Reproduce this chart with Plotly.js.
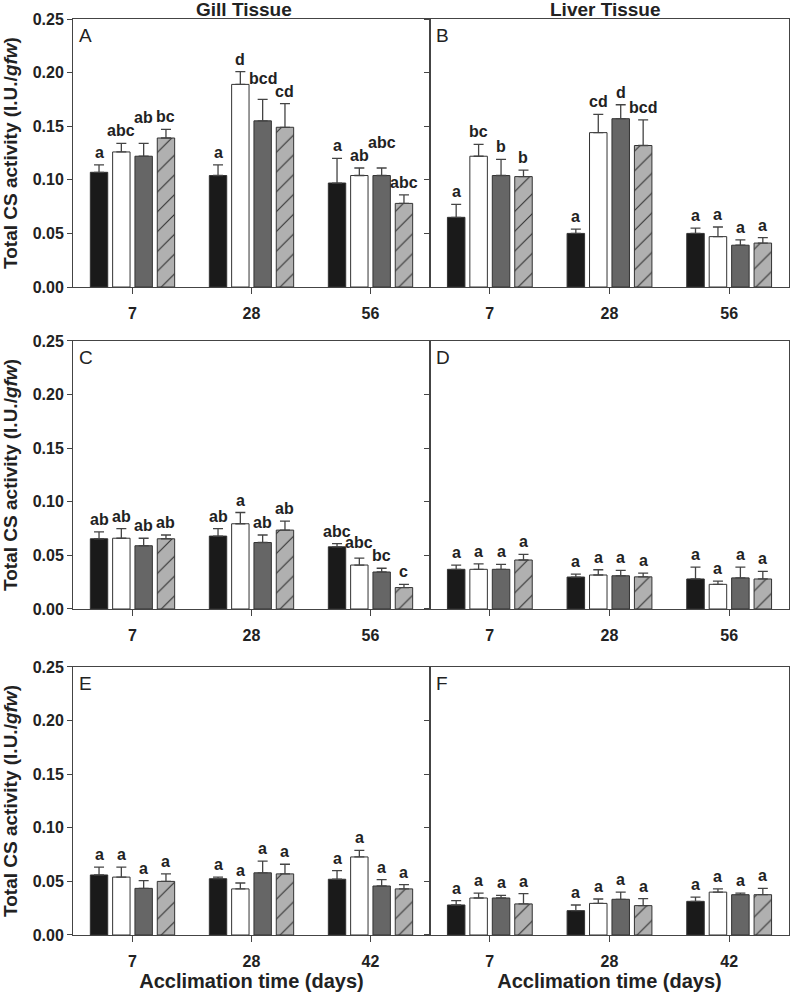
<!DOCTYPE html>
<html>
<head>
<meta charset="utf-8">
<script src="https://cdn.plot.ly/plotly-3.0.1.min.js"></script>
<style>
  html, body { margin: 0; padding: 0; background: #fff; }
  #plot { width: 790px; height: 994px; }
</style>
</head>
<body>
<div id="plot"></div>
<script>
// Acclimation days on the x axis (rows 1-2 and row 3)
var daysAB = ["7", "28", "56"];
var daysEF = ["7", "28", "42"];
var seriesNames = ["Group 1", "Group 2", "Group 3", "Group 4"];

// Each panel: one row per series (black, white, dark gray, hatched), one value per day
var meanA = [[0.107, 0.104, 0.097], [0.126, 0.189, 0.104], [0.122, 0.155, 0.104], [0.139, 0.149, 0.078]];
var seA   = [[0.007, 0.010, 0.023], [0.008, 0.012, 0.007], [0.012, 0.020, 0.007], [0.008, 0.022, 0.008]];
var letA  = [["a", "a", "a"], ["abc", "d", "ab"], ["ab", "bcd", "abc"], ["bc", "cd", "abc"]];

var meanB = [[0.065, 0.050, 0.050], [0.122, 0.144, 0.047], [0.104, 0.157, 0.039], [0.103, 0.132, 0.041]];
var seB   = [[0.012, 0.004, 0.005], [0.011, 0.017, 0.009], [0.015, 0.013, 0.005], [0.006, 0.024, 0.005]];
var letB  = [["a", "a", "a"], ["bc", "cd", "a"], ["b", "d", "a"], ["b", "bcd", "a"]];

var meanC = [[0.0655, 0.068, 0.058], [0.066, 0.0795, 0.041], [0.059, 0.062, 0.0345], [0.0655, 0.0736, 0.020]];
var seC   = [[0.0065, 0.007, 0.003], [0.009, 0.0105, 0.0065], [0.007, 0.007, 0.0035], [0.0035, 0.0084, 0.003]];
var letC  = [["ab", "ab", "abc"], ["ab", "a", "abc"], ["ab", "ab", "bc"], ["ab", "ab", "c"]];

var meanD = [[0.037, 0.0298, 0.028], [0.037, 0.0317, 0.023], [0.037, 0.031, 0.029], [0.0457, 0.030, 0.028]];
var seD   = [[0.004, 0.0028, 0.011], [0.005, 0.0049, 0.003], [0.0046, 0.005, 0.010], [0.0053, 0.0035, 0.007]];
var letD  = [["a", "a", "a"], ["a", "a", "a"], ["a", "a", "a"], ["a", "a", "a"]];

var meanE = [[0.056, 0.0525, 0.052], [0.054, 0.043, 0.0728], [0.0435, 0.058, 0.0457], [0.050, 0.057, 0.043]];
var seE   = [[0.0074, 0.0015, 0.008], [0.0094, 0.0055, 0.0062], [0.0072, 0.011, 0.0059], [0.007, 0.009, 0.004]];
var letE  = [["a", "a", "a"], ["a", "a", "a"], ["a", "a", "a"], ["a", "a", "a"]];

var meanF = [[0.028, 0.0227, 0.0314], [0.0345, 0.0295, 0.040], [0.0345, 0.0333, 0.0376], [0.029, 0.0274, 0.0376]];
var seF   = [[0.004, 0.0053, 0.004], [0.0045, 0.0041, 0.003], [0.0025, 0.0067, 0.0014], [0.0096, 0.0066, 0.0059]];
var letF  = [["a", "a", "a"], ["a", "a", "a"], ["a", "a", "a"], ["a", "a", "a"]];

var panels = [
  { tag: "A", days: daysAB, mean: meanA, se: seA, letters: letA },
  { tag: "B", days: daysAB, mean: meanB, se: seB, letters: letB },
  { tag: "C", days: daysAB, mean: meanC, se: seC, letters: letC },
  { tag: "D", days: daysAB, mean: meanD, se: seD, letters: letD },
  { tag: "E", days: daysEF, mean: meanE, se: seE, letters: letE },
  { tag: "F", days: daysEF, mean: meanF, se: seF, letters: letF }
];

var font = "Liberation Sans, Arial, sans-serif";
var ink = "#222";
var frame = "#444";
var fills = ["#1a1a1a", "#ffffff", "#666666", "#b0b0b0"];
var bargap = 0.25;
var bargroupgap = 0.22;
var W = 790, H = 994;
var margin = { l: 73, r: 1, t: 19, b: 59 };
var yMax = 0.25;
var letterSize = 16;

// panel placement in paper units, left and right panels share a border
var colDomains = [[0, 0.4986], [0.4986, 1]];
var rowDomains = [[0.7074, 1], [0.3559, 0.6485], [0, 0.2926]];

var data = [];
var annotations = [];
var layout = {
  width: W,
  height: H,
  margin: margin,
  paper_bgcolor: "#fff",
  plot_bgcolor: "#fff",
  showlegend: false,
  barmode: "group",
  bargap: bargap,
  bargroupgap: bargroupgap,
  font: { family: font, color: ink }
};

panels.forEach(function (p, i) {
  var n = i + 1;
  var sfx = n === 1 ? "" : String(n);
  var row = Math.floor(i / 2);
  var col = i % 2;
  var nSeries = p.mean.length;
  var slot = (1 - bargap) / nSeries;

  // pixel scales of this panel, used only to keep letters from colliding
  var pxPerCat = (colDomains[col][1] - colDomains[col][0]) * (W - margin.l - margin.r) / p.days.length;
  var pxPerUnit = (rowDomains[row][1] - rowDomains[row][0]) * (H - margin.t - margin.b) / yMax;
  var slotPx = slot * pxPerCat;
  var textH = 13 / pxPerUnit;

  p.mean.forEach(function (vals, k) {
    data.push({
      type: "bar",
      name: seriesNames[k],
      x: p.days,
      y: vals,
      xaxis: "x" + sfx,
      yaxis: "y" + sfx,
      marker: {
        color: fills[k],
        line: { color: "#333", width: 1 },
        pattern: k === 3 ? { shape: "/", fgcolor: "#333", bgcolor: fills[k], size: 14, solidity: 0.08 } : undefined
      },
      error_y: {
        type: "data",
        symmetric: false,
        array: p.se[k],
        arrayminus: p.se[k].map(function () { return 0; }),
        color: "#444",
        thickness: 1.3,
        width: 5
      },
      hoverinfo: "x+y"
    });
  });

  // significance letters above each error bar; a label that would collide
  // with its left neighbour gets stacked above it
  p.days.forEach(function (day, d) {
    var pos = [];
    for (var k = 0; k < nSeries; k++) {
      var txt = p.letters[k][d];
      pos.push({ k: k, txt: txt, y: p.mean[k][d] + p.se[k][d], w: txt.length * 0.58 * letterSize });
    }
    for (var k2 = 1; k2 < nSeries; k2++) {
      var a = pos[k2 - 1], b = pos[k2];
      var hOverlap = (a.w + b.w) / 2 + 2 > slotPx;
      if (hOverlap && Math.abs(a.y - b.y) < textH) {
        if (b.y >= a.y - textH * 0.2) b.y = a.y + textH;
        else a.y = b.y + textH;
      }
    }
    pos.forEach(function (q) {
      annotations.push({
        xref: "x" + sfx,
        yref: "y" + sfx,
        x: d + (q.k - (nSeries - 1) / 2) * slot,
        y: q.y,
        yanchor: "bottom",
        yshift: 2,
        text: "<b>" + q.txt + "</b>",
        showarrow: false,
        font: { size: letterSize, color: ink, family: font }
      });
    });
  });

  // panel letter
  annotations.push({
    xref: "x" + sfx + " domain",
    yref: "y" + sfx + " domain",
    x: 0.012, y: 0.985,
    xanchor: "left", yanchor: "top",
    text: p.tag,
    showarrow: false,
    font: { size: 19, color: ink, family: font }
  });

  layout["xaxis" + sfx] = {
    domain: colDomains[col],
    anchor: "y" + sfx,
    type: "category",
    range: [-0.5, 2.5],
    showline: true,
    linecolor: frame,
    linewidth: 1,
    mirror: true,
    ticks: "outside",
    ticklen: 6,
    tickcolor: frame,
    ticklabelstandoff: 6,
    tickfont: { size: 16, color: ink, family: font, weight: "bold" },
    showgrid: false,
    zeroline: false,
    fixedrange: true,
    title: row === 2 ? {
      text: "<b>Acclimation time (days)</b>",
      font: { size: 20, color: ink, family: font },
      standoff: 4
    } : { text: "" }
  };

  layout["yaxis" + sfx] = {
    domain: rowDomains[row],
    anchor: "x" + sfx,
    range: [0, yMax],
    dtick: 0.05,
    tickformat: ".2f",
    showline: true,
    linecolor: frame,
    linewidth: 1,
    mirror: true,
    ticks: "outside",
    ticklen: 5,
    tickcolor: frame,
    showticklabels: col === 0,
    tickfont: { size: 16, color: ink, family: font, weight: "bold" },
    showgrid: false,
    zeroline: false,
    fixedrange: true,
    title: col === 0 ? {
      text: "<b>Total CS activity (I.U./<i>gfw</i>)</b>",
      font: { size: 19, color: ink, family: font },
      standoff: 12
    } : { text: "" }
  };
});

// column headings
annotations.push({
  xref: "x domain", yref: "y domain",
  x: 0.48, y: 1.036, yanchor: "middle",
  text: "<b>Gill Tissue</b>", showarrow: false,
  font: { size: 19, color: ink, family: font }
});
annotations.push({
  xref: "x2 domain", yref: "y2 domain",
  x: 0.49, y: 1.036, yanchor: "middle",
  text: "<b>Liver Tissue</b>", showarrow: false,
  font: { size: 19, color: ink, family: font }
});

layout.annotations = annotations;

Plotly.newPlot("plot", data, layout, { displayModeBar: false, staticPlot: true });
</script>
</body>
</html>
